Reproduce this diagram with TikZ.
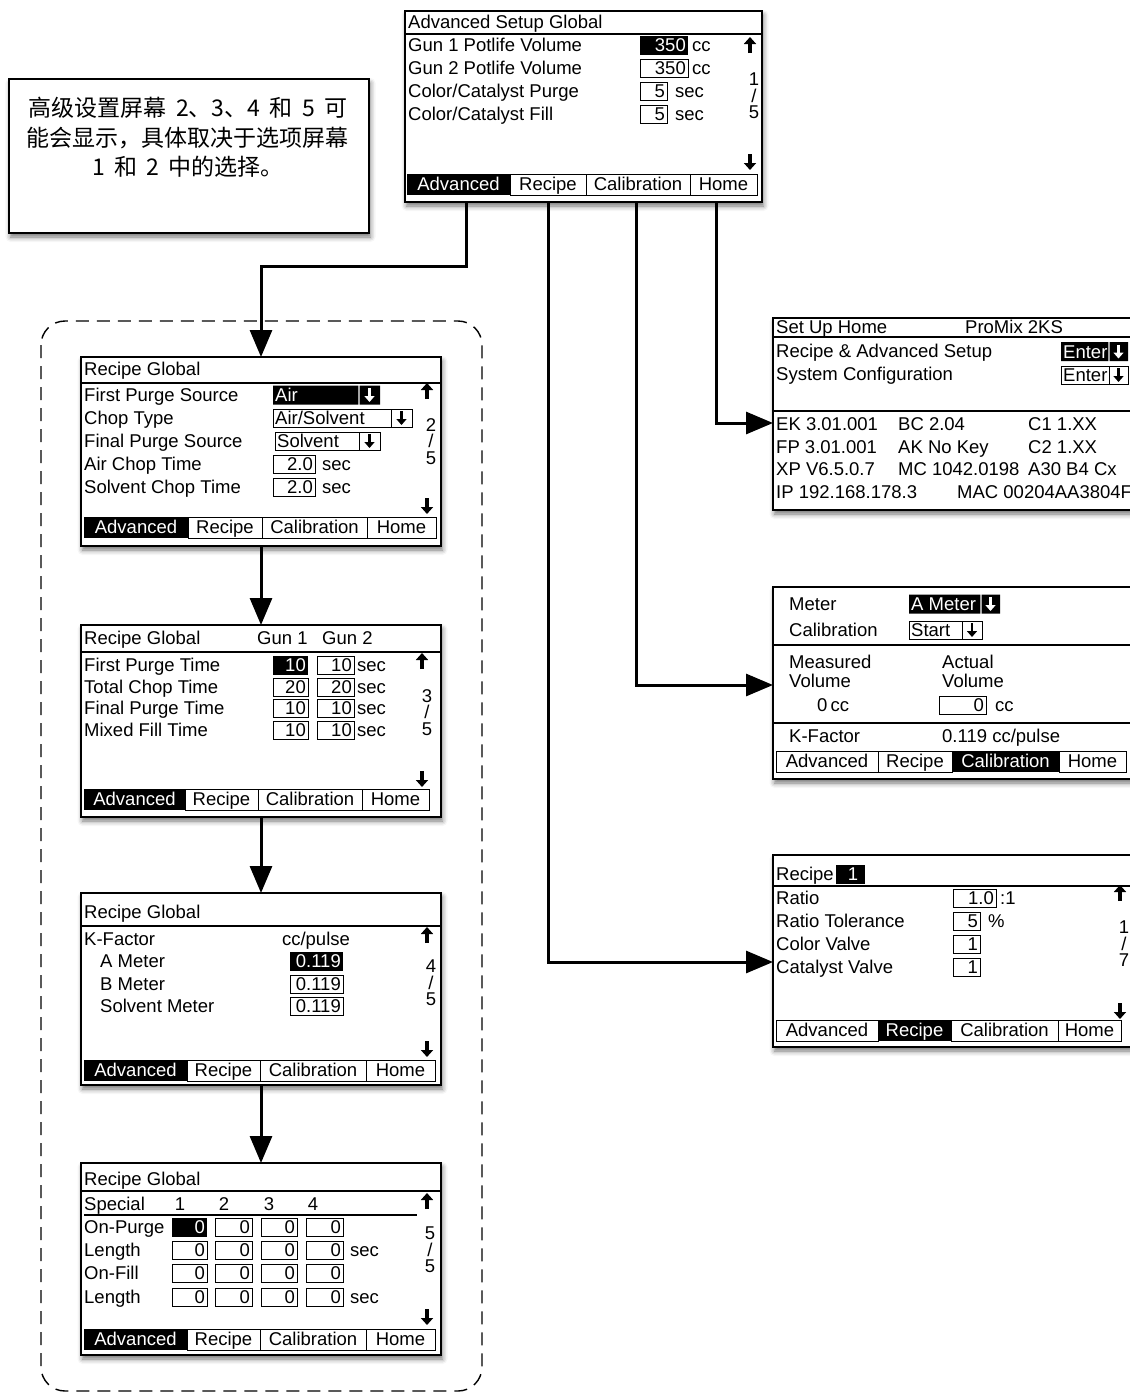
\documentclass[tikz,border=0pt]{standalone}
\usepackage{fontspec}
\setmainfont{Liberation Sans}
\newfontfamily\cjk[WordSpace=1.8]{Noto Sans CJK SC}
\usetikzlibrary{arrows.meta,shadows.blur}

\newcommand{\lcd}{\fontsize{18.5}{20}\selectfont}

\tikzset{
  screen/.style={draw,line width=1.6pt,fill=white,inner sep=0pt,outer sep=0pt,
    blur shadow={shadow xshift=1.5pt,shadow yshift=-4pt,shadow blur radius=5pt,shadow opacity=55}},
  lcdtxt/.style={font=\lcd,inner sep=0pt,anchor=base west},
  conn/.style={line width=3pt,-{Triangle[length=27pt,width=22pt]}},
  divline/.style={line width=1.2pt},
}

% boxed values, text flush right
\newcommand{\valbox}[4]{%
  \draw[line width=1pt] ({#1},{#3-9}) rectangle ({#2},{#3+9});
  \node[lcdtxt,anchor=base east] at ({#2-2},{#3+6.5}) {#4};}
\newcommand{\selbox}[4]{%
  \fill ({#1},{#3-9.5}) rectangle ({#2},{#3+9.5});
  \node[lcdtxt,anchor=base east,text=white] at ({#2-2},{#3+6.5}) {#4};}
% thick arrows
\newcommand{\dnarr}[3][black]{\draw[#1,line width=3.2pt,-{Triangle[length=7pt,width=12pt]}] ({#2},{#3-8}) -- ({#2},{#3+8});}
\newcommand{\uparr}[3][black]{\draw[#1,line width=3.2pt,-{Triangle[length=7pt,width=12pt]}] ({#2},{#3+8}) -- ({#2},{#3-8});}
\newcommand{\smallarr}[3][black]{\draw[#1,line width=2.6pt,-{Triangle[length=6pt,width=10pt]}] ({#2},{#3-7}) -- ({#2},{#3+7});}
% drop down fields
\newcommand{\dropbox}[5]{%
  \draw[line width=1pt] ({#1},{#4-9}) rectangle ({#3},{#4+9}) ({#2},{#4-9}) -- ({#2},{#4+9});
  \node[lcdtxt] at ({#1+2},{#4+6.5}) {#5};
  \smallarr{(#2+#3)/2}{#4}}
\newcommand{\dropsel}[5]{%
  \fill ({#1},{#4-9.5}) rectangle ({#2-0.7},{#4+9.5}) ({#2+0.7},{#4-9.5}) rectangle ({#3},{#4+9.5});
  \node[lcdtxt,text=white] at ({#1+2},{#4+6.5}) {#5};
  \smallarr[white]{(#2+#3)/2}{#4}}
% page counter
\newcommand{\pagemark}[4]{%
  \node[font=\fontsize{18.5}{16.5}\selectfont,inner sep=0pt,align=center,anchor=north] at ({#1},{#2}) {#3\\/\\#4};}
% soft key bar
\newcommand{\tabcell}[6]{%
  \ifnum#5=#6
    \fill ({#1},{#3}) rectangle ({#2},{#3+21});
    \node[lcdtxt,anchor=base,text=white] at ({(#1+#2)/2},{#3+16.5}) {#4};
  \else
    \draw[line width=1pt] ({#1},{#3}) rectangle ({#2},{#3+21});
    \node[lcdtxt,anchor=base] at ({(#1+#2)/2},{#3+16.5}) {#4};
  \fi}
\newcommand{\tabbar}[7]{%
  \tabcell{#1}{#2}{#6}{Advanced}{1}{#7}
  \tabcell{#2}{#3}{#6}{Recipe}{2}{#7}
  \tabcell{#3}{#4}{#6}{Calibration}{3}{#7}
  \tabcell{#4}{#5}{#6}{Home}{4}{#7}}

\begin{document}
\begin{tikzpicture}[x=1pt,y=-1pt]
\useasboundingbox (0,0) rectangle (1130,1393);
\clip (0,0) rectangle (1130,1393);
%
	\draw[line width=1.4pt,dash pattern=on 13pt off 8pt,rounded corners=24pt] (41,321) rectangle (482,1391);
%
	\node[screen,minimum width=357,minimum height=191] (adv) at (583.5,106.5) {};
	\node[screen,minimum width=360,minimum height=154] (note) at (189,156) {};
	\node[screen,minimum width=360,minimum height=189] (rg2) at (261,451.5) {};
	\node[screen,minimum width=360,minimum height=192] (rg3) at (261,721) {};
	\node[screen,minimum width=360,minimum height=192] (rg4) at (261,989) {};
	\node[screen,minimum width=360,minimum height=192] (rg5) at (261,1259) {};
	\node[screen,minimum width=377,minimum height=192] (home) at (961.5,414) {};
	\node[screen,minimum width=377,minimum height=192] (calib) at (961.5,683) {};
	\node[screen,minimum width=377,minimum height=192] (rcp) at (961.5,951) {};
%
	\draw[conn] ([xshift=-117.5pt]adv.south) -- ++(0,64) -| (rg2.north);
	\draw[conn] ([xshift=-35.5pt]adv.south) |- ([yshift=-11pt]rcp.west);
	\draw[conn] ([xshift=52.5pt]adv.south) |- ([yshift=-2pt]calib.west);
	\draw[conn] ([xshift=132.5pt]adv.south) |- ([yshift=-9pt]home.west);
	\draw[conn] (rg2.south) -- (rg3.north);
	\draw[conn] (rg3.south) -- (rg4.north);
	\draw[conn] (rg4.south) -- (rg5.north);
%
	\node[font=\cjk\fontsize{23}{29.5}\selectfont,align=center,anchor=north,inner sep=0pt] (notetxt) at (188,97)
		{高级设置屏幕 2、3、4 和 5 可\\能会显示，具体取决于选项屏幕\\1 和 2 中的选择。};
%
	% Advanced Setup Global
	\node[lcdtxt] at (408,28.5) {Advanced Setup Global};
	\draw[divline] (405,34) -- (762,34);
	\node[lcdtxt] at (408,51.5) {Gun 1 Potlife Volume};
	\node[lcdtxt] at (408,74.5) {Gun 2 Potlife Volume};
	\node[lcdtxt] at (408,97.5) {Color/Catalyst Purge};
	\node[lcdtxt] at (408,120.5) {Color/Catalyst Fill};
	\selbox{640}{688}{45}{350}
	\valbox{640}{688}{68}{350}
	\valbox{640}{667}{91}{5}
	\valbox{640}{667}{114}{5}
	\node[lcdtxt] at (692,51.5) {cc};
	\node[lcdtxt] at (692,74.5) {cc};
	\node[lcdtxt] at (675,97.5) {sec};
	\node[lcdtxt] at (675,120.5) {sec};
	\uparr{750}{45}
	\pagemark{754}{73}{1}{5}
	\dnarr{750}{162}
	\tabbar{407}{510}{586}{690}{757}{174}{1}
%
	% Recipe Global 2/5
	\node[lcdtxt] at (84,375.5) {Recipe Global};
	\draw[divline] (81,383) -- (441,383);
	\node[lcdtxt] at (84,401.5) {First Purge Source};
	\node[lcdtxt] at (84,424.5) {Chop Type};
	\node[lcdtxt] at (84,447.5) {Final Purge Source};
	\node[lcdtxt] at (84,470.5) {Air Chop Time};
	\node[lcdtxt] at (84,493.5) {Solvent Chop Time};
	\dropsel{273}{359}{380}{395}{Air}
	\dropbox{273}{391}{412}{418}{Air/Solvent}
	\dropbox{275}{359}{380}{441}{Solvent}
	\valbox{273}{315}{464}{2.0}
	\valbox{273}{315}{487}{2.0}
	\node[lcdtxt] at (322,470.5) {sec};
	\node[lcdtxt] at (322,493.5) {sec};
	\uparr{427}{391}
	\pagemark{431}{418}{2}{5}
	\dnarr{427}{506}
	\tabbar{84}{188}{262}{367}{436}{517}{1}
%
	% Recipe Global 3/5
	\node[lcdtxt] at (84,644.5) {Recipe Global};
	\node[lcdtxt] at (257,644.5) {Gun 1};
	\node[lcdtxt] at (322,644.5) {Gun 2};
	\draw[divline] (81,652) -- (441,652);
	\node[lcdtxt] at (84,671.5) {First Purge Time};
	\node[lcdtxt] at (84,693.5) {Total Chop Time};
	\node[lcdtxt] at (84,714.5) {Final Purge Time};
	\node[lcdtxt] at (84,736.5) {Mixed Fill Time};
	\selbox{273}{308}{665}{10}
	\valbox{317}{354}{665}{10}
	\valbox{273}{308}{687}{20}
	\valbox{317}{354}{687}{20}
	\valbox{273}{308}{708}{10}
	\valbox{317}{354}{708}{10}
	\valbox{273}{308}{730}{10}
	\valbox{317}{354}{730}{10}
	\node[lcdtxt] at (357,671.5) {sec};
	\node[lcdtxt] at (357,693.5) {sec};
	\node[lcdtxt] at (357,714.5) {sec};
	\node[lcdtxt] at (357,736.5) {sec};
	\uparr{422}{661}
	\pagemark{427}{689}{3}{5}
	\dnarr{422}{779}
	\tabbar{84}{185}{258}{362}{429}{789}{1}
%
	% Recipe Global 4/5
	\node[lcdtxt] at (84,918.5) {Recipe Global};
	\draw[divline] (81,926) -- (441,926);
	\node[lcdtxt] at (84,945) {K-Factor};
	\node[lcdtxt,anchor=base] at (316,945) {cc/pulse};
	\node[lcdtxt] at (100,967.5) {A Meter};
	\node[lcdtxt] at (100,990.5) {B Meter};
	\node[lcdtxt] at (100,1012.5) {Solvent Meter};
	\selbox{290}{343}{961}{0.119}
	\valbox{290}{343}{984}{0.119}
	\valbox{290}{343}{1006}{0.119}
	\uparr{427}{935}
	\pagemark{431}{960}{4}{5}
	\dnarr{427}{1049}
	\tabbar{84}{187}{260}{366}{435}{1060}{1}
%
	% Recipe Global 5/5
	\node[lcdtxt] at (84,1185.5) {Recipe Global};
	\draw[divline] (81,1191) -- (441,1191);
	\node[lcdtxt] at (84,1210.5) {Special};
	\node[lcdtxt,anchor=base] at (180,1210.5) {1};
	\node[lcdtxt,anchor=base] at (224,1210.5) {2};
	\node[lcdtxt,anchor=base] at (269,1210.5) {3};
	\node[lcdtxt,anchor=base] at (313,1210.5) {4};
	\draw[divline] (84,1215) -- (417,1215);
	\node[lcdtxt] at (84,1233.5) {On-Purge};
	\node[lcdtxt] at (84,1256.5) {Length};
	\node[lcdtxt] at (84,1279.5) {On-Fill};
	\node[lcdtxt] at (84,1303.5) {Length};
	\selbox{172}{207}{1227}{0}
	\valbox{215}{252}{1227}{0}
	\valbox{261}{297}{1227}{0}
	\valbox{306}{343}{1227}{0}
	\valbox{172}{207}{1250}{0}
	\valbox{215}{252}{1250}{0}
	\valbox{261}{297}{1250}{0}
	\valbox{306}{343}{1250}{0}
	\valbox{172}{207}{1273}{0}
	\valbox{215}{252}{1273}{0}
	\valbox{261}{297}{1273}{0}
	\valbox{306}{343}{1273}{0}
	\valbox{172}{207}{1297}{0}
	\valbox{215}{252}{1297}{0}
	\valbox{261}{297}{1297}{0}
	\valbox{306}{343}{1297}{0}
	\node[lcdtxt] at (350,1256.5) {sec};
	\node[lcdtxt] at (350,1303.5) {sec};
	\uparr{427}{1201}
	\pagemark{430}{1227}{5}{5}
	\dnarr{427}{1317}
	\tabbar{84}{187}{260}{366}{435}{1329}{1}
%
	% Set Up Home
	\node[lcdtxt] at (776,333.5) {Set Up Home};
	\node[lcdtxt] at (965,333.5) {ProMix 2KS};
	\draw[divline] (773,337) -- (1150,337);
	\node[lcdtxt] at (776,357.5) {Recipe \& Advanced Setup};
	\node[lcdtxt] at (776,380.5) {System Configuration};
	\dropsel{1061}{1109}{1128}{351.5}{Enter}
	\dropbox{1061}{1109}{1128}{375}{Enter}
	\draw[divline] (773,411) -- (1150,411);
	\node[lcdtxt] at (776,430.5) {EK 3.01.001};
	\node[lcdtxt] at (898,430.5) {BC 2.04};
	\node[lcdtxt] at (1028,430.5) {C1 1.XX};
	\node[lcdtxt] at (776,453.5) {FP 3.01.001};
	\node[lcdtxt] at (898,453.5) {AK No Key};
	\node[lcdtxt] at (1028,453.5) {C2 1.XX};
	\node[lcdtxt] at (776,475.5) {XP V6.5.0.7};
	\node[lcdtxt] at (898,475.5) {MC 1042.0198};
	\node[lcdtxt] at (1028,475.5) {A30 B4 Cx};
	\node[lcdtxt] at (776,498.5) {IP 192.168.178.3};
	\node[lcdtxt] at (957,498.5) {MAC 00204AA3804F};
%
	% Calibration
	\node[lcdtxt] at (789,610.5) {Meter};
	\dropsel{909}{981}{1000}{604}{A Meter}
	\node[lcdtxt] at (789,636.5) {Calibration};
	\dropbox{909}{962}{982}{630}{Start}
	\draw[divline] (773,645) -- (1150,645);
	\node[lcdtxt] at (789,668) {Measured};
	\node[lcdtxt] at (789,687.5) {Volume};
	\node[lcdtxt] at (817,711.5) {0\,cc};
	\node[lcdtxt] at (942,668) {Actual};
	\node[lcdtxt] at (942,687.5) {Volume};
	\valbox{939}{986}{705}{0}
	\node[lcdtxt] at (995,711.5) {cc};
	\draw[divline] (773,723) -- (1150,723);
	\node[lcdtxt] at (789,742.5) {K-Factor};
	\node[lcdtxt] at (942,742.5) {0.119 cc/pulse};
	\tabbar{776}{878}{952}{1059}{1126}{751}{3}
%
	% Recipe 1
	\node[lcdtxt] at (776,880.5) {Recipe};
	\fill (836,865) rectangle (865,884);
	\node[lcdtxt,anchor=base,text=white] at (853,880.5) {1};
	\draw[divline] (773,886) -- (1150,886);
	\node[lcdtxt] at (776,904.5) {Ratio};
	\node[lcdtxt] at (776,927.5) {Ratio Tolerance};
	\node[lcdtxt] at (776,950.5) {Color Valve};
	\node[lcdtxt] at (776,973.5) {Catalyst Valve};
	\valbox{953}{996}{898}{1.0}
	\node[lcdtxt] at (1000,904.5) {:1};
	\valbox{953}{980}{921}{5}
	\node[lcdtxt] at (988,927.5) {\%};
	\valbox{953}{980}{944}{1}
	\valbox{953}{980}{967}{1}
	\uparr{1120}{893}
	\pagemark{1124}{921}{1}{7}
	\dnarr{1120}{1011}
	\tabbar{776}{878}{951}{1058}{1121}{1020}{2}
\end{tikzpicture}
\end{document}
